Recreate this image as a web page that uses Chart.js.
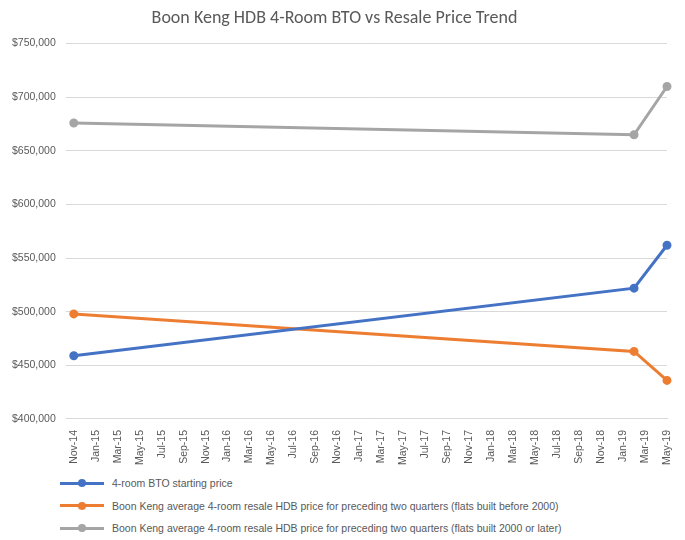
<!DOCTYPE html>
<html>
<head>
<meta charset="utf-8">
<script src="https://cdn.jsdelivr.net/npm/chart.js@4"></script>
<style>
  body { margin: 0; background: #fff; font-family: 'Liberation Sans', sans-serif; }
  #wrap { width: 685px; height: 468px; position: relative; }
  #legend { margin: 4px 0 0 60px; padding: 0; list-style: none; color: #595959; font-size: 10.5px; }
  #legend li { height: 22.5px; display: flex; align-items: center; }
  #legend .sw { width: 44px; height: 3px; position: relative; margin-right: 8px; }
  #legend .sw i { position: absolute; left: 18px; top: -2.5px; width: 8px; height: 8px; border-radius: 50%; }
</style>
</head>
<body>
<div id="wrap"><canvas id="chart"></canvas></div>
<ul id="legend"></ul>
<script>
// Data (months as "YYYY-MM")
const dates = ["2014-11", "2019-02", "2019-05"];
const btoPrice = [459000, 522000, 562000];
const resaleBefore2000 = [498000, 463000, 436000];
const resale2000Later = [676000, 665000, 710000];
const monthNames = ["Jan","Feb","Mar","Apr","May","Jun","Jul","Aug","Sep","Oct","Nov","Dec"];

// month index counted from Nov-14
function monthIndex(d) {
  const [y, m] = d.split("-").map(Number);
  return (y - 2014) * 12 + (m - 11);
}
function monthLabel(i) {
  const total = 2014 * 12 + 10 + i;
  const y = Math.floor(total / 12), m = total % 12;
  return monthNames[m] + "-" + String(y).slice(2);
}
const pts = vals => vals.map((v, i) => ({ x: monthIndex(dates[i]), y: v }));

function series(label, vals, color) {
  return {
    label, data: pts(vals),
    borderColor: color, backgroundColor: color,
    borderWidth: 3, pointRadius: 3, pointHoverRadius: 3, clip: false
  };
}

const chart = new Chart(document.getElementById("chart"), {
  type: "line",
  data: {
    datasets: [
      series("4-room BTO starting price", btoPrice, "#4472c4"),
      series("Boon Keng average 4-room resale HDB price for preceding two quarters (flats built before 2000)", resaleBefore2000, "#ed7d31"),
      series("Boon Keng average 4-room resale HDB price for preceding two quarters (flats built 2000 or later)", resale2000Later, "#a5a5a5")
    ]
  },
  options: {
    responsive: true,
    maintainAspectRatio: false,
    animation: false,
    layout: { padding: { left: 2, right: 18, top: 2, bottom: 0 } },
    plugins: {
      title: {
        display: true,
        text: "Boon Keng HDB 4-Room BTO vs Resale Price Trend",
        color: "#595959",
        font: { family: "Calibri, Carlito, 'Liberation Sans', sans-serif", size: 18, weight: "normal" },
        padding: { top: 6, bottom: 14 }
      },
      legend: { display: false },
      tooltip: { enabled: false }
    },
    scales: {
      x: {
        type: "linear",
        min: 0, max: 54,
        grid: { display: false },
        border: { color: "#d9d9d9" },
        ticks: {
          stepSize: 2,
          autoSkip: false,
          maxRotation: 90, minRotation: 90,
          color: "#595959",
          font: { family: "'Liberation Sans', sans-serif", size: 10.5 },
          callback: v => monthLabel(v)
        }
      },
      y: {
        min: 400000, max: 750000,
        grid: { color: "#d9d9d9" },
        border: { display: false },
        ticks: {
          stepSize: 50000,
          padding: 10,
          color: "#595959",
          font: { family: "'Liberation Sans', sans-serif", size: 10.5 },
          callback: v => "$" + v.toLocaleString("en-US")
        }
      }
    }
  }
});

// HTML legend, one series per row
const legend = document.getElementById("legend");
chart.data.datasets.forEach(ds => {
  const li = document.createElement("li");
  li.innerHTML = `<span class="sw" style="background:${ds.borderColor}"><i style="background:${ds.borderColor}"></i></span>`;
  li.appendChild(document.createTextNode(ds.label));
  legend.appendChild(li);
});
</script>
</body>
</html>
